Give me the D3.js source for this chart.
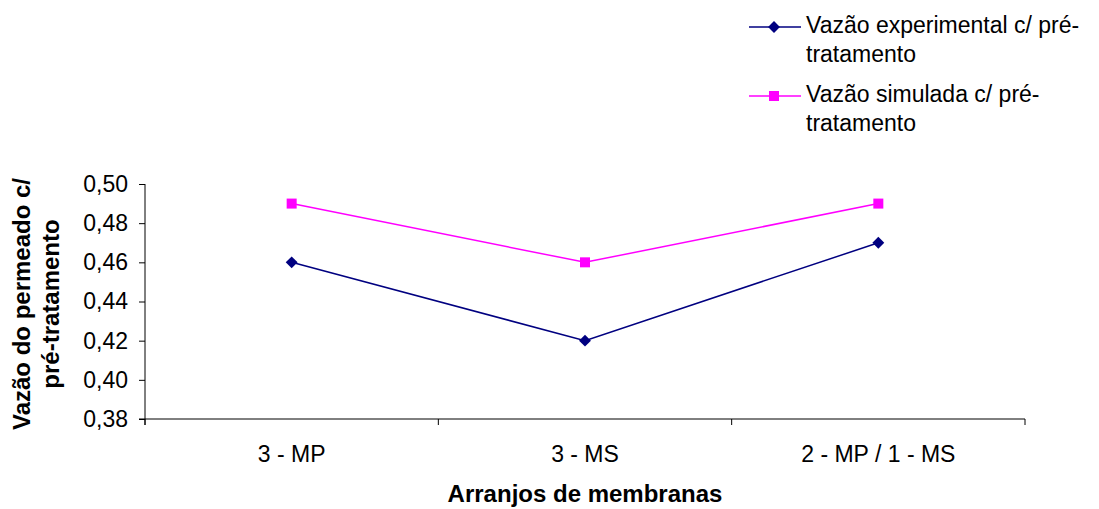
<!DOCTYPE html>
<html><head><meta charset="utf-8">
<script src="https://cdn.jsdelivr.net/npm/d3@7"></script>
<style>body{margin:0;background:#fff}svg{display:block}text{font-family:"Liberation Sans",Arial,sans-serif}</style>
</head><body>
<svg id="c" width="1099" height="509"></svg>
<script>
const categories = ["3 - MP", "3 - MS", "2 - MP / 1 - MS"];
const experimental = [0.46, 0.42, 0.47];
const simulated = [0.49, 0.46, 0.49];
const yTicks = [0.38, 0.40, 0.42, 0.44, 0.46, 0.48, 0.50];
const seriesNames = [["Vazão experimental c/ pré-", "tratamento"], ["Vazão simulada c/ pré-", "tratamento"]];

const svg = d3.select("#c");
const mLeft = 145, mRight = 1025, mTop = 184, mBottom = 419;
const FS = 23, FSB = 24;
const x = d3.scaleBand().domain(categories).range([mLeft, mRight]);
const y = d3.scaleLinear().domain([0.38, 0.50]).range([mBottom, mTop]);
const fmt = d => d.toFixed(2).replace(".", ",");

// y axis
const ya = svg.append("g").attr("transform", `translate(${mLeft},0)`)
  .call(d3.axisLeft(y).tickValues(yTicks).tickFormat(fmt).tickSize(6).tickPadding(11));
ya.select(".domain").attr("stroke", "#000").attr("d", `M0,${mTop}V${mBottom+6}`);
ya.selectAll("line").attr("stroke", "#000");
ya.selectAll("text").attr("font-size", FS).attr("fill", "#000").attr("font-family", "Liberation Sans, Arial");

// x axis
const xa = svg.append("g").attr("transform", `translate(0,${mBottom})`);
xa.append("line").attr("x1", mLeft - 6).attr("x2", mRight).attr("stroke", "#000");
const bounds = [...categories.map(c => x(c)), mRight];
bounds.forEach(b => xa.append("line").attr("x1", b).attr("x2", b).attr("y1", 0).attr("y2", 6).attr("stroke", "#000"));
xa.selectAll("text.cat").data(categories).join("text").attr("class", "cat")
  .attr("x", d => x(d) + x.bandwidth() / 2).attr("y", 43).attr("text-anchor", "middle")
  .attr("font-size", FS).text(d => d);

// axis titles
svg.append("text").attr("x", (mLeft + mRight) / 2).attr("y", 502).attr("text-anchor", "middle")
  .attr("font-size", FSB).attr("font-weight", "bold").text("Arranjos de membranas");
const yt = svg.append("text").attr("transform", `translate(0,304) rotate(-90)`)
  .attr("text-anchor", "middle").attr("font-size", FSB).attr("font-weight", "bold");
yt.append("tspan").attr("x", 0).attr("y", 30).text("Vazão do permeado c/");
yt.append("tspan").attr("x", 0).attr("y", 59).text("pré-tratamento");

const cx = d => x(d) + x.bandwidth() / 2;
const line = vals => d3.line().x((d, i) => cx(categories[i])).y(d => y(d))(vals);

const colors = ["#000080", "#ff00ff"];
// series
svg.append("path").attr("d", line(experimental)).attr("fill", "none").attr("stroke", colors[0]).attr("stroke-width", 1.5);
svg.append("path").attr("d", line(simulated)).attr("fill", "none").attr("stroke", colors[1]).attr("stroke-width", 1.5);
const diamond = d3.symbol().type(d3.symbolDiamond2).size(90);
svg.selectAll("path.dm").data(experimental).join("path").attr("class", "dm")
  .attr("d", diamond).attr("transform", (d, i) => `translate(${cx(categories[i])},${y(d)})`).attr("fill", colors[0]);
svg.selectAll("rect.sq").data(simulated).join("rect").attr("class", "sq")
  .attr("x", (d, i) => cx(categories[i]) - 5).attr("y", d => y(d) - 5).attr("width", 10).attr("height", 10).attr("fill", colors[1]);

// legend
const lg = svg.append("g");
const ly = [27, 96];
seriesNames.forEach((nm, i) => {
  lg.append("line").attr("x1", 749).attr("x2", 801).attr("y1", ly[i]).attr("y2", ly[i]).attr("stroke", colors[i]).attr("stroke-width", 1.5);
  if (i === 0) lg.append("path").attr("d", diamond).attr("transform", `translate(774,${ly[i]})`).attr("fill", colors[0]);
  else lg.append("rect").attr("x", 769).attr("y", ly[i] - 5).attr("width", 10).attr("height", 10).attr("fill", colors[1]);
  const t = lg.append("text").attr("font-size", FS);
  t.append("tspan").attr("x", 806).attr("y", ly[i] + 6).text(nm[0]);
  t.append("tspan").attr("x", 806).attr("y", ly[i] + 35).text(nm[1]);
});
</script>
</body></html>
